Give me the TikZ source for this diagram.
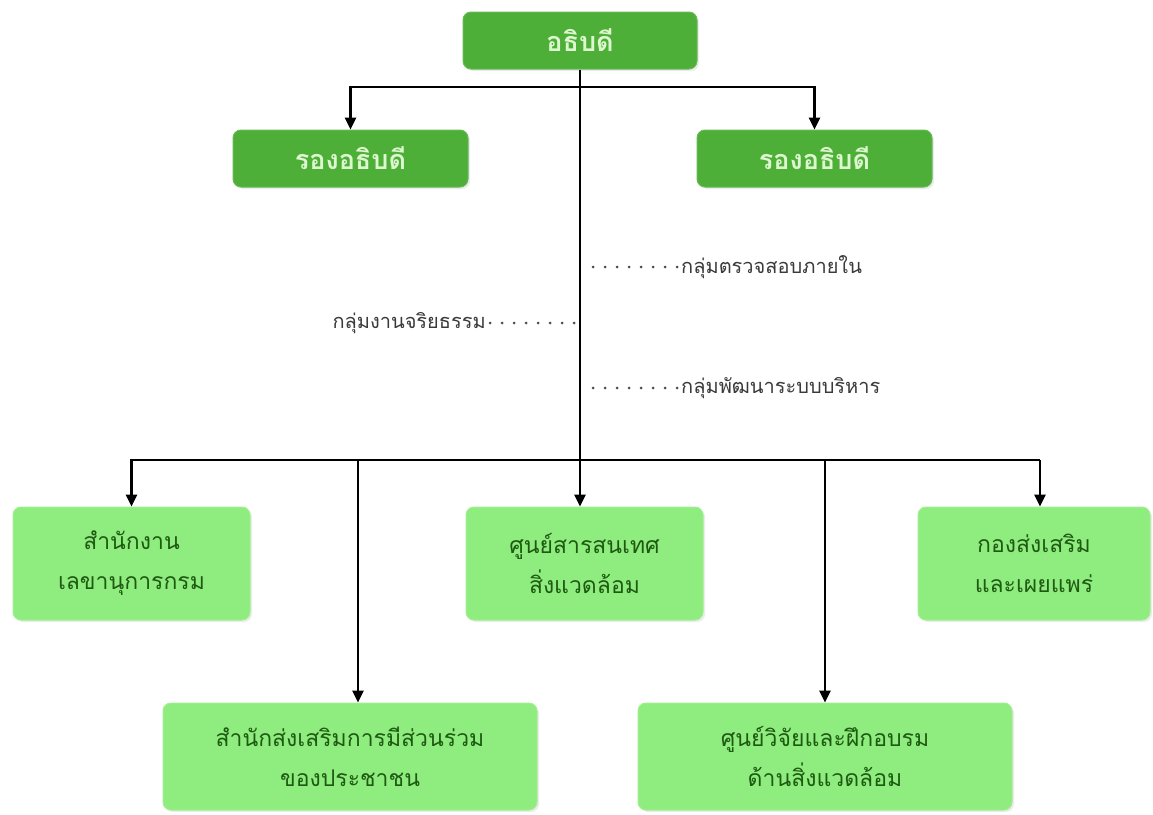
\documentclass[tikz,border=0pt]{standalone}
\usepackage{fontspec}
\newfontfamily\thai[Script=Thai]{Loma}
\usetikzlibrary{arrows.meta,shadows}
\definecolor{dkgreen}{HTML}{4DAE38}
\definecolor{ltgreen}{HTML}{8FEC7E}
\definecolor{txtdark}{HTML}{1E5A12}
\definecolor{txtlight}{HTML}{DDF7CF}
\definecolor{lblgray}{HTML}{3A3A3A}
\begin{document}
\begin{tikzpicture}[x=1pt,y=-1pt,
  topbox/.style={rectangle, rounded corners=8pt, fill=dkgreen, draw=dkgreen!85!white, line width=1pt,
     text=txtlight, font=\thai\bfseries\fontsize{27}{30}\selectfont,
     drop shadow={opacity=0.15, shadow xshift=2pt, shadow yshift=-2pt}},
  unitbox/.style={rectangle, rounded corners=8pt, fill=ltgreen, draw=ltgreen!85!white, line width=1pt,
     text=txtdark, align=center, font=\thai\fontsize{23}{40}\selectfont,
     drop shadow={opacity=0.15, shadow xshift=2pt, shadow yshift=-2pt}},
  grouplbl/.style={text=lblgray, font=\thai\fontsize{20}{24}\selectfont, inner sep=0pt},
  conn/.style={draw=black, line width=2.6pt},
  arr/.style={conn, -{Triangle[length=12pt,width=11pt]}},
  dotline/.style={draw=black!70, line width=3pt, line cap=round, dash pattern=on 0pt off 12pt}
]
\useasboundingbox (0,0) rectangle (1153,814);
\fill[white] (0,0) rectangle (1153,814);

% boxes
\node[topbox, minimum width=234pt, minimum height=57pt] (dg) at (580,40.5) {อธิบดี};
\node[topbox, minimum width=235pt, minimum height=57pt] (depL) at (350.5,158.5) {รองอธิบดี};
\node[topbox, minimum width=235pt, minimum height=57pt] (depR) at (814.5,158.5) {รองอธิบดี};

\node[unitbox, minimum width=237pt, minimum height=113pt] (u1) at (131.5,563.5) {สำนักงาน\\เลขานุการกรม};
\node[unitbox, minimum width=237pt, minimum height=113pt] (u2) at (584.5,563.5) {ศูนย์สารสนเทศ\\สิ่งแวดล้อม};
\node[unitbox, minimum width=232pt, minimum height=113pt] (u3) at (1034,563.5) {กองส่งเสริม\\และเผยแพร่};
\node[unitbox, minimum width=374pt, minimum height=107pt] (u4) at (350,756.5) {สำนักส่งเสริมการมีส่วนร่วม\\ของประชาชน};
\node[unitbox, minimum width=374pt, minimum height=107pt] (u5) at (825,756.5) {ศูนย์วิจัยและฝึกอบรม\\ด้านสิ่งแวดล้อม};

% junction coordinates
\coordinate (j1) at (580,87);
\coordinate (bus) at (580,460);
\coordinate (busL) at (131.5,460);
\coordinate (busR) at (1040,460);
\coordinate (t4) at (358,460);
\coordinate (t5) at (825,460);

% connectors
\draw[conn] (dg.south) -- (bus);
\draw[arr] (j1) -| (depL.north);
\draw[arr] (j1) -| (depR.north);
\draw[conn] (busL) -- (busR);
\draw[arr] (bus) -- (bus |- u2.north);
\draw[arr] (bus) -| (u1.north);
\draw[arr] (busR) -- (busR |- u3.north);
\draw[arr] (t4) -- (t4 |- u4.north);
\draw[arr] (t5) -- (t5 |- u5.north);

% staff groups
\node[grouplbl, anchor=west] (g1) at (681,267) {กลุ่มตรวจสอบภายใน};
\node[grouplbl, anchor=east] (g2) at (486,323) {กลุ่มงานจริยธรรม};
\node[grouplbl, anchor=west] (g3) at (681,388) {กลุ่มพัฒนาระบบบริหาร};
\coordinate (d1) at (593,267);
\coordinate (d2) at (574,323);
\coordinate (d3) at (593,388);
\draw[dotline] (d1) -- ([xshift=-4pt]g1.west);
\draw[dotline] ([xshift=4pt]g2.east) -- (d2);
\draw[dotline] (d3) -- ([xshift=-4pt]g3.west);
\end{tikzpicture}
\end{document}
